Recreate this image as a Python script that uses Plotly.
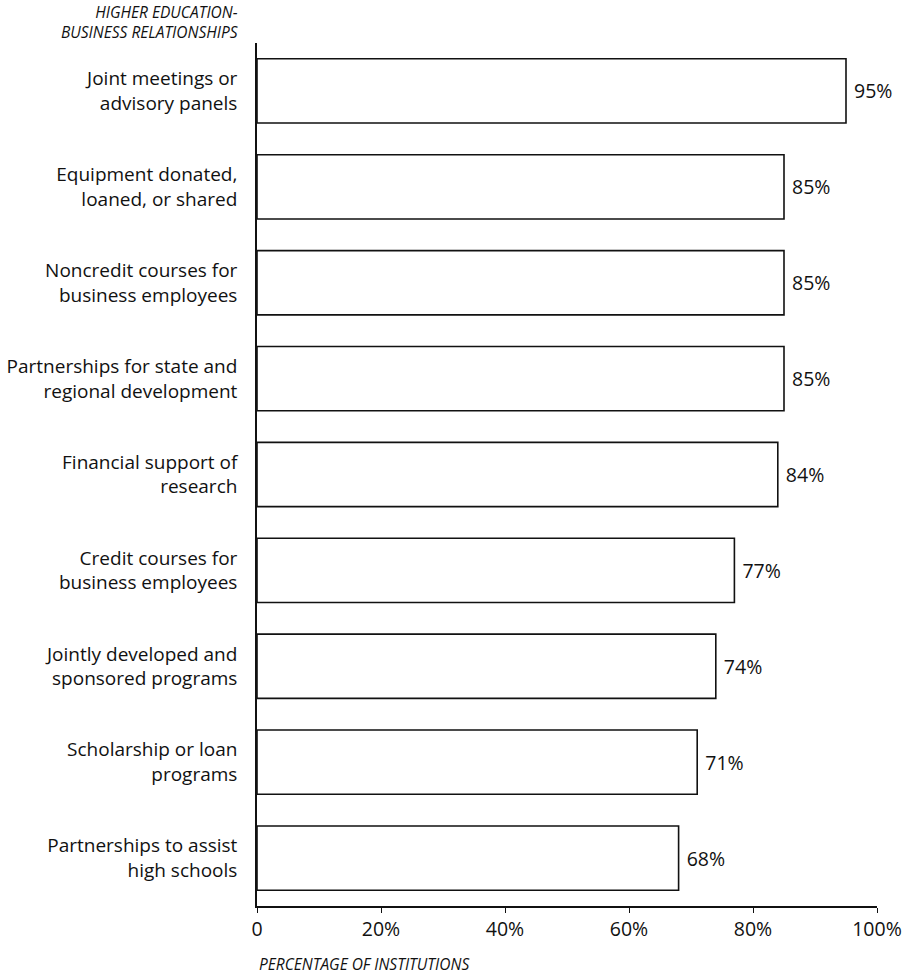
import plotly.graph_objects as go

categories = [
    "Joint meetings or<br>advisory panels",
    "Equipment donated,<br>loaned, or shared",
    "Noncredit courses for<br>business employees",
    "Partnerships for state and<br>regional development",
    "Financial support of<br>research",
    "Credit courses for<br>business employees",
    "Jointly developed and<br>sponsored programs",
    "Scholarship or loan<br>programs",
    "Partnerships to assist<br>high schools",
]
values = [95, 85, 85, 85, 84, 77, 74, 71, 68]
x_ticks = [0, 20, 40, 60, 80, 100]
x_tick_labels = ["0", "20%", "40%", "60%", "80%", "100%"]

positions = list(range(len(categories)))
FONT = "Open Sans, Noto Sans, sans-serif"
INK = "#111111"

fig = go.Figure(
    go.Bar(
        x=values,
        y=positions,
        orientation="h",
        width=0.67,
        marker=dict(color="white", line=dict(color=INK, width=1.6)),
        text=[f"\u00a0{v}%" for v in values],
        textposition="outside",
        constraintext="none",
        textfont=dict(family=FONT, size=19.5, color=INK),
        cliponaxis=False,
    )
)

fig.update_layout(
    width=905,
    height=977,
    margin=dict(l=257, r=28, t=43, b=71),
    paper_bgcolor="white",
    plot_bgcolor="white",
    showlegend=False,
    font=dict(family=FONT, size=18, color=INK),
    xaxis=dict(
        range=[0, 100],
        automargin=False,
        tickvals=x_ticks,
        ticktext=x_tick_labels,
        showgrid=False,
        zeroline=False,
        showline=True,
        linecolor=INK,
        linewidth=1.6,
        ticks="outside",
        ticklen=5,
        tickcolor=INK,
        tickwidth=1.2,
        tickfont=dict(family=FONT, size=19.5, color=INK),
    ),
    yaxis=dict(
        range=[len(categories) - 0.5, -0.5],
        automargin=False,
        tickvals=positions,
        ticktext=categories,
        showgrid=False,
        zeroline=False,
        showline=True,
        linecolor=INK,
        linewidth=1.6,
        ticks="",
        ticklabelstandoff=14,
        tickfont=dict(family=FONT, size=19, color=INK),
    ),
    annotations=[
        dict(
            text="<i>HIGHER EDUCATION-<br>BUSINESS RELATIONSHIPS</i>",
            xref="paper", yref="paper",
            x=0, y=1, xanchor="right", yanchor="bottom",
            xshift=-16, yshift=-2,
            align="right", showarrow=False,
            font=dict(family=FONT, size=15.5, color=INK),
        ),
        dict(
            text="<i>PERCENTAGE OF INSTITUTIONS</i>",
            xref="paper", yref="paper",
            x=0, y=0, xanchor="left", yanchor="top",
            yshift=-45,
            showarrow=False,
            font=dict(family=FONT, size=15.5, color=INK),
        ),
    ],
)

fig.write_html("out.html")
